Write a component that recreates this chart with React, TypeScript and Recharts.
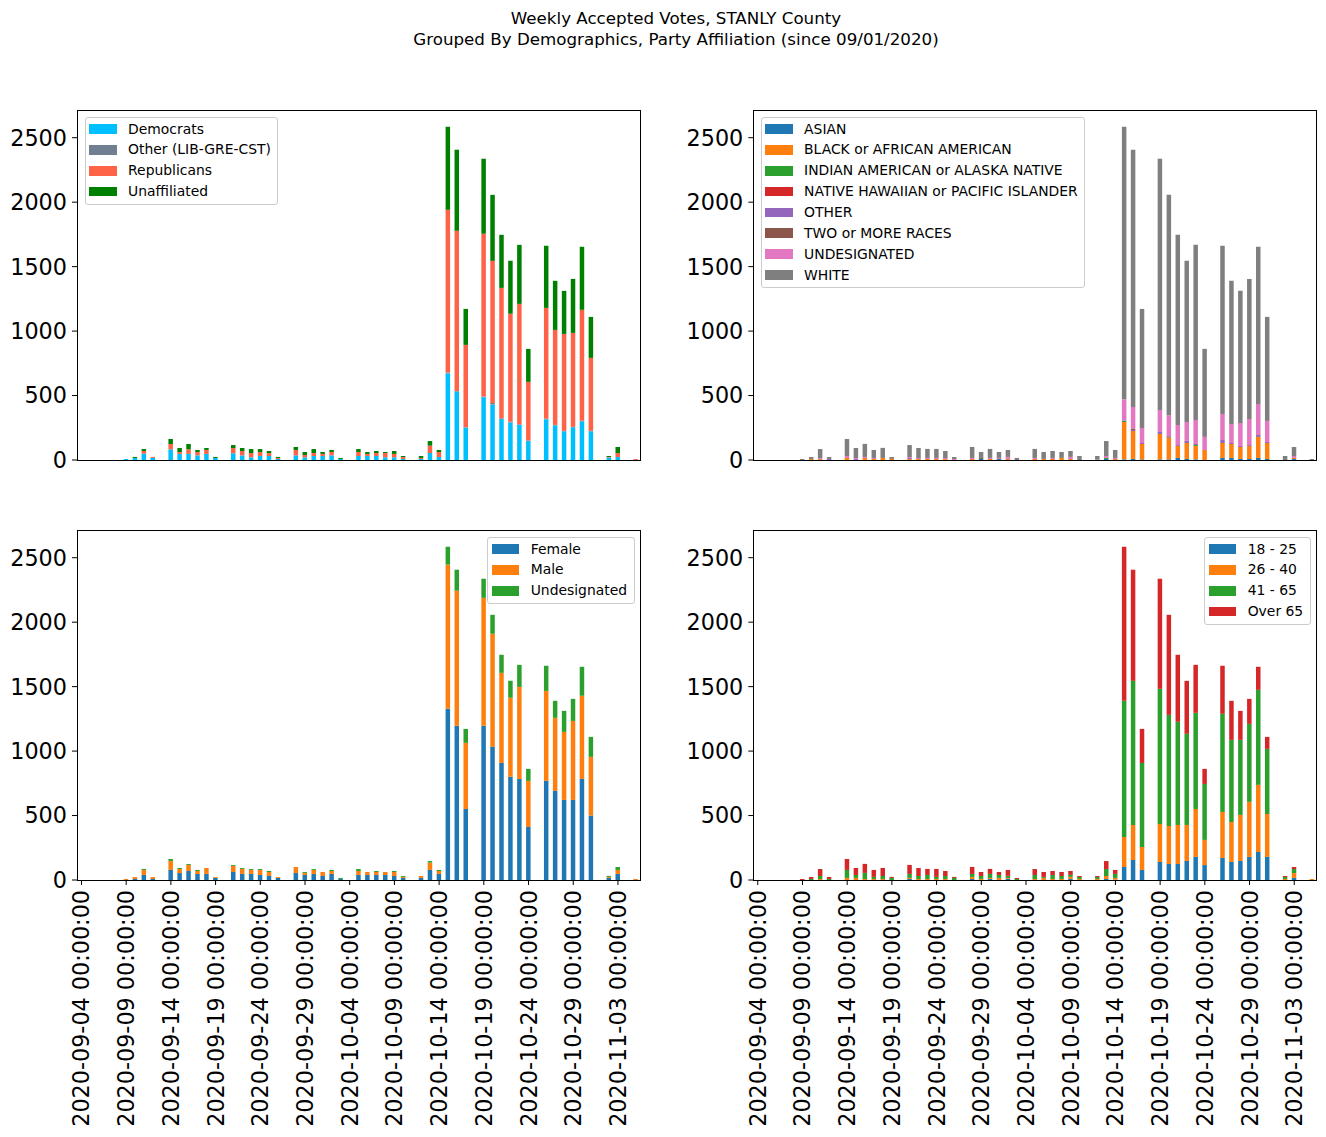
import React from 'react';
import { BarChart, Bar, XAxis, YAxis } from 'recharts';

const DATES = [
  '2020-09-04', '2020-09-05', '2020-09-06', '2020-09-07', '2020-09-08',
  '2020-09-09', '2020-09-10', '2020-09-11', '2020-09-12', '2020-09-13',
  '2020-09-14', '2020-09-15', '2020-09-16', '2020-09-17', '2020-09-18',
  '2020-09-19', '2020-09-20', '2020-09-21', '2020-09-22', '2020-09-23',
  '2020-09-24', '2020-09-25', '2020-09-26', '2020-09-27', '2020-09-28',
  '2020-09-29', '2020-09-30', '2020-10-01', '2020-10-02', '2020-10-03',
  '2020-10-04', '2020-10-05', '2020-10-06', '2020-10-07', '2020-10-08',
  '2020-10-09', '2020-10-10', '2020-10-11', '2020-10-12', '2020-10-13',
  '2020-10-14', '2020-10-15', '2020-10-16', '2020-10-17', '2020-10-18',
  '2020-10-19', '2020-10-20', '2020-10-21', '2020-10-22', '2020-10-23',
  '2020-10-24', '2020-10-25', '2020-10-26', '2020-10-27', '2020-10-28',
  '2020-10-29', '2020-10-30', '2020-10-31', '2020-11-01', '2020-11-02',
  '2020-11-03', '2020-11-04', '2020-11-05',
];

const Y_TICKS = [0, 500, 1000, 1500, 2000, 2500];
const Y_MAX = 2715;

// Party affiliation
const DEMOCRATS = [
  0, 0, 0, 0, 0, 8, 16, 49, 16, 0, 83, 47, 47, 36, 47, 16, 0, 52, 36, 21,
  31, 31, 8, 0, 36, 21, 31, 31, 36, 8, 0, 31, 31, 31, 21, 21, 8, 0, 8, 54,
  23, 673, 531, 251, 0, 487, 430, 318, 290, 272, 148, 0, 316, 269, 223, 254, 300, 223, 0, 18,
  23, 0, 0,
];
const OTHER_PARTY = [
  0, 0, 0, 0, 0, 0, 0, 0, 0, 0, 0, 0, 0, 0, 0, 0, 0, 0, 0, 0,
  0, 0, 0, 0, 0, 0, 0, 0, 0, 0, 0, 0, 0, 0, 0, 0, 0, 0, 0, 0,
  0, 5, 5, 3, 0, 5, 13, 5, 8, 5, 3, 0, 5, 3, 3, 3, 5, 3, 0, 0,
  0, 0, 0,
];
const REPUBLICANS = [
  0, 0, 0, 0, 0, 0, 0, 21, 8, 0, 41, 15, 36, 26, 31, 0, 0, 41, 34, 33,
  31, 23, 8, 0, 42, 18, 23, 16, 26, 0, 0, 31, 16, 23, 33, 26, 15, 0, 8, 57,
  39, 1263, 1242, 639, 0, 1263, 1102, 1012, 836, 934, 455, 0, 859, 737, 752, 729, 860, 566, 0, 5,
  31, 0, 8,
];
const UNAFFILIATED = [
  0, 0, 0, 0, 0, 0, 8, 15, 0, 0, 39, 31, 41, 16, 15, 8, 0, 23, 23, 31,
  23, 16, 8, 0, 23, 23, 31, 15, 16, 8, 0, 23, 15, 16, 8, 23, 8, 0, 15, 36,
  16, 644, 629, 279, 0, 582, 512, 412, 411, 458, 256, 0, 482, 381, 334, 419, 489, 318, 0, 8,
  47, 0, 0,
];

// Race
const ASIAN = [
  0, 0, 0, 0, 0, 0, 0, 0, 0, 0, 0, 0, 0, 0, 0, 0, 0, 0, 0, 0,
  0, 0, 0, 0, 0, 8, 0, 8, 0, 0, 0, 0, 0, 0, 0, 0, 0, 0, 0, 8,
  0, 5, 8, 5, 0, 5, 5, 16, 8, 5, 0, 0, 16, 16, 8, 8, 16, 8, 0, 0,
  8, 0, 0,
];
const BLACK = [
  0, 0, 0, 0, 0, 0, 8, 7, 0, 0, 16, 0, 16, 8, 16, 8, 0, 7, 8, 8,
  8, 7, 0, 0, 8, 0, 8, 0, 8, 0, 0, 8, 8, 8, 16, 8, 0, 0, 0, 0,
  8, 290, 217, 119, 0, 197, 166, 93, 124, 104, 78, 0, 116, 108, 93, 101, 163, 124, 0, 0,
  8, 0, 0,
];
const INDIAN = [
  0, 0, 0, 0, 0, 0, 0, 0, 0, 0, 0, 0, 0, 0, 0, 0, 0, 0, 0, 0,
  0, 0, 0, 0, 0, 0, 0, 0, 0, 0, 0, 0, 0, 0, 0, 0, 0, 0, 0, 8,
  0, 8, 0, 0, 0, 0, 0, 0, 0, 7, 0, 0, 0, 0, 0, 0, 0, 0, 0, 0,
  0, 0, 0,
];
const HAWAIIAN = [
  0, 0, 0, 0, 0, 0, 0, 0, 0, 0, 0, 0, 0, 0, 0, 0, 0, 0, 0, 0,
  0, 0, 0, 0, 0, 0, 0, 0, 0, 0, 0, 0, 0, 0, 0, 0, 0, 0, 0, 0,
  0, 0, 0, 0, 0, 0, 0, 0, 0, 0, 0, 0, 0, 0, 0, 0, 0, 0, 0, 0,
  0, 0, 0,
];
const OTHER_RACE = [
  0, 0, 0, 0, 0, 0, 0, 0, 8, 0, 0, 7, 0, 0, 0, 0, 0, 8, 0, 0,
  0, 0, 0, 0, 0, 0, 0, 0, 0, 0, 0, 0, 0, 0, 0, 0, 0, 0, 3, 0,
  0, 5, 8, 8, 0, 15, 5, 7, 16, 8, 0, 0, 23, 8, 8, 7, 15, 8, 0, 0,
  0, 0, 0,
];
const TWO_OR_MORE = [
  0, 0, 0, 0, 0, 0, 0, 0, 0, 0, 0, 0, 0, 0, 0, 0, 0, 0, 0, 0,
  0, 0, 0, 0, 0, 8, 0, 0, 0, 0, 0, 0, 0, 0, 0, 0, 0, 0, 0, 0,
  0, 0, 8, 0, 0, 0, 8, 0, 0, 0, 0, 0, 0, 0, 0, 0, 0, 0, 0, 0,
  0, 0, 0,
];
const UNDESIGNATED_RACE = [
  0, 0, 0, 0, 0, 0, 0, 8, 0, 0, 15, 8, 8, 8, 0, 0, 0, 8, 8, 8,
  8, 8, 8, 0, 8, 0, 8, 8, 16, 0, 0, 8, 0, 8, 0, 16, 0, 0, 0, 15,
  8, 163, 171, 116, 0, 171, 163, 156, 147, 187, 101, 0, 202, 148, 178, 202, 241, 163, 0, 0,
  15, 0, 0,
];
const WHITE = [
  0, 0, 0, 0, 0, 8, 15, 70, 15, 0, 132, 78, 101, 62, 78, 15, 0, 93, 78, 70,
  70, 55, 15, 0, 85, 46, 70, 46, 54, 16, 0, 70, 54, 54, 46, 46, 31, 0, 28, 116,
  62, 2114, 1995, 924, 0, 1949, 1710, 1475, 1250, 1358, 683, 0, 1305, 1110, 1025, 1087, 1219, 807, 0, 31,
  70, 0, 8,
];

// Gender
const FEMALE = [
  0, 0, 0, 0, 0, 0, 8, 39, 8, 0, 78, 54, 70, 47, 47, 16, 0, 62, 47, 47,
  39, 31, 16, 0, 54, 39, 47, 31, 47, 8, 0, 39, 39, 39, 39, 31, 16, 0, 16, 78,
  47, 1328, 1196, 551, 0, 1196, 1033, 908, 800, 784, 411, 0, 769, 691, 621, 621, 784, 500, 0, 16,
  47, 0, 0,
];
const MALE = [
  0, 0, 0, 0, 0, 8, 15, 39, 15, 0, 70, 31, 47, 23, 46, 7, 0, 47, 39, 31,
  39, 31, 7, 0, 47, 16, 31, 31, 23, 0, 0, 31, 23, 23, 23, 31, 8, 0, 15, 57,
  23, 1118, 1048, 513, 0, 993, 877, 699, 613, 714, 358, 0, 698, 567, 528, 613, 645, 455, 0, 8,
  31, 0, 8,
];
const UNDESIGNATED_GENDER = [
  0, 0, 0, 0, 0, 0, 0, 8, 0, 0, 15, 8, 7, 8, 0, 0, 0, 7, 7, 7,
  7, 8, 0, 0, 0, 7, 7, 0, 8, 8, 0, 15, 0, 8, 0, 8, 7, 0, 0, 12,
  8, 139, 163, 108, 0, 148, 147, 140, 132, 171, 93, 0, 195, 132, 163, 171, 225, 155, 0, 8,
  23, 0, 0,
];

// Age
const AGE_18_25 = [
  0, 0, 0, 0, 0, 0, 0, 0, 0, 0, 0, 0, 0, 0, 0, 0, 0, 8, 0, 0,
  0, 0, 0, 0, 8, 0, 8, 0, 8, 0, 0, 0, 0, 0, 0, 8, 0, 0, 0, 8,
  3, 101, 155, 78, 0, 140, 124, 124, 148, 179, 116, 0, 171, 140, 148, 179, 217, 179, 0, 0,
  16, 0, 0,
];
const AGE_26_40 = [
  0, 0, 0, 0, 0, 0, 0, 8, 0, 0, 16, 16, 8, 8, 8, 0, 0, 8, 8, 8,
  8, 8, 0, 0, 16, 8, 8, 16, 8, 0, 0, 8, 16, 8, 8, 16, 8, 0, 8, 23,
  13, 233, 272, 178, 0, 295, 295, 303, 279, 372, 195, 0, 357, 310, 357, 427, 521, 333, 0, 8,
  38, 0, 8,
];
const AGE_41_65 = [
  0, 0, 0, 0, 0, 0, 8, 23, 8, 0, 62, 23, 47, 16, 23, 16, 0, 31, 23, 31,
  16, 23, 16, 0, 23, 23, 31, 23, 16, 8, 0, 31, 8, 31, 23, 16, 15, 0, 15, 54,
  31, 1056, 1118, 652, 0, 1048, 862, 800, 707, 746, 434, 0, 761, 637, 582, 605, 737, 505, 0, 15,
  31, 0, 0,
];
const AGE_OVER_65 = [
  0, 0, 0, 0, 0, 8, 15, 54, 15, 0, 85, 54, 70, 54, 62, 8, 0, 70, 62, 47,
  62, 39, 8, 0, 54, 31, 39, 23, 46, 8, 0, 46, 38, 31, 31, 30, 8, 0, 8, 62,
  31, 1195, 862, 264, 0, 854, 776, 520, 411, 372, 117, 0, 373, 303, 225, 194, 179, 93, 0, 8,
  16, 0, 0,
];

type Series = { key: string; label: string; color: string; values: number[] };

const PARTY_SERIES: Series[] = [
  { key: 'dem', label: 'Democrats', color: '#00BFFF', values: DEMOCRATS },
  { key: 'oth', label: 'Other (LIB-GRE-CST)', color: '#708090', values: OTHER_PARTY },
  { key: 'rep', label: 'Republicans', color: '#FF6347', values: REPUBLICANS },
  { key: 'una', label: 'Unaffiliated', color: '#008000', values: UNAFFILIATED },
];
const RACE_SERIES: Series[] = [
  { key: 'asian', label: 'ASIAN', color: '#1f77b4', values: ASIAN },
  { key: 'black', label: 'BLACK or AFRICAN AMERICAN', color: '#ff7f0e', values: BLACK },
  { key: 'indian', label: 'INDIAN AMERICAN or ALASKA NATIVE', color: '#2ca02c', values: INDIAN },
  { key: 'hawaiian', label: 'NATIVE HAWAIIAN or PACIFIC ISLANDER', color: '#d62728', values: HAWAIIAN },
  { key: 'other', label: 'OTHER', color: '#9467bd', values: OTHER_RACE },
  { key: 'two', label: 'TWO or MORE RACES', color: '#8c564b', values: TWO_OR_MORE },
  { key: 'undes', label: 'UNDESIGNATED', color: '#e377c2', values: UNDESIGNATED_RACE },
  { key: 'white', label: 'WHITE', color: '#7f7f7f', values: WHITE },
];
const GENDER_SERIES: Series[] = [
  { key: 'f', label: 'Female', color: '#1f77b4', values: FEMALE },
  { key: 'm', label: 'Male', color: '#ff7f0e', values: MALE },
  { key: 'u', label: 'Undesignated', color: '#2ca02c', values: UNDESIGNATED_GENDER },
];
const AGE_SERIES: Series[] = [
  { key: 'a1', label: '18 - 25', color: '#1f77b4', values: AGE_18_25 },
  { key: 'a2', label: '26 - 40', color: '#ff7f0e', values: AGE_26_40 },
  { key: 'a3', label: '41 - 65', color: '#2ca02c', values: AGE_41_65 },
  { key: 'a4', label: 'Over 65', color: '#d62728', values: AGE_OVER_65 },
];

const FONT = '"DejaVu Sans", Verdana, sans-serif';
const TICK_FONT_SIZE = 22.3;

function buildRows(series: Series[]) {
  return DATES.map((d, i) => {
    const row: Record<string, any> = { date: d };
    series.forEach((s) => {
      row[s.key] = s.values[i];
    });
    return row;
  });
}

const XTick = (props: any) => {
  const { x, y, payload } = props;
  return (
    <text
      x={x}
      y={y}
      transform={`rotate(-90 ${x} ${y})`}
      textAnchor="end"
      dy="0.36em"
      fontSize={TICK_FONT_SIZE}
      fontFamily={FONT}
      fill="#000"
    >
      {`${payload.value} 00:00:00`}
    </text>
  );
};

type PanelProps = {
  series: Series[];
  left: number;
  top: number;
  width: number;
  height: number;
  margin: { top: number; right: number; bottom: number; left: number };
  yAxisWidth: number;
  showX: boolean;
  xAxisHeight: number;
  plot: { x: number; y: number; w: number; h: number };
  legend: { left: number; top: number };
};

function Legend({ series, left, top }: { series: Series[]; left: number; top: number }) {
  return (
    <div
      style={{
        position: 'absolute',
        left,
        top,
        background: 'rgba(255,255,255,0.8)',
        border: '1px solid #cccccc',
        borderRadius: 3,
        padding: '0.3px 6.5px 2px 3.3px',
        fontFamily: FONT,
        fontSize: 13.9,
        color: '#000',
        whiteSpace: 'nowrap',
        pointerEvents: 'none',
      }}
    >
      {series.map((s) => (
        <div key={s.key} style={{ display: 'flex', alignItems: 'center', height: 20.85 }}>
          <div style={{ width: 27.8, height: 9.7, background: s.color, flex: 'none' }} />
          <span style={{ marginLeft: 11.3, lineHeight: '20.85px' }}>{s.label}</span>
        </div>
      ))}
    </div>
  );
}

function Panel(p: PanelProps) {
  const rows = buildRows(p.series);
  return (
    <>
      <div style={{ position: 'absolute', left: p.left, top: p.top, width: p.width, height: p.height }}>
        <BarChart width={p.width} height={p.height} data={rows} margin={p.margin} barSize={4.5}>
          {p.showX ? (
            <XAxis
              dataKey="date"
              interval={4}
              height={p.xAxisHeight}
              axisLine={false}
              tickLine={{ stroke: '#000', strokeWidth: 1 }}
              tickSize={5}
              tickMargin={5}
              tick={<XTick />}
            />
          ) : (
            <XAxis dataKey="date" hide />
          )}
          <YAxis
            type="number"
            domain={[0, Y_MAX]}
            ticks={Y_TICKS}
            width={p.yAxisWidth}
            axisLine={false}
            tickLine={{ stroke: '#000', strokeWidth: 1 }}
            tickSize={5}
            tickMargin={5}
            tick={{ fill: '#000', fontSize: TICK_FONT_SIZE, fontFamily: FONT }}
          />
          {p.series.map((s) => (
            <Bar key={s.key} dataKey={s.key} stackId="a" fill={s.color} isAnimationActive={false} />
          ))}
        </BarChart>
      </div>
      <div
        style={{
          position: 'absolute',
          left: p.plot.x - 0.5,
          top: p.plot.y - 0.5,
          width: p.plot.w + 1,
          height: p.plot.h + 1,
          border: '1px solid #000',
          boxSizing: 'border-box',
          pointerEvents: 'none',
        }}
      />
      <Legend series={p.series} left={p.legend.left} top={p.legend.top} />
    </>
  );
}

export default function App() {
  const W = 663;
  const plotW = 563.3;
  return (
    <div
      style={{
        position: 'absolute',
        left: 0,
        top: 0,
        width: 1326,
        height: 1137,
        background: '#fff',
        overflow: 'hidden',
        fontFamily: FONT,
      }}
    >
      <div
        style={{
          position: 'absolute',
          left: 0,
          top: 7.5,
          width: 1352,
          textAlign: 'center',
          fontSize: 16.7,
          lineHeight: '21px',
          color: '#000',
        }}
      >
        <div>Weekly Accepted Votes, STANLY County</div>
        <div>Grouped By Demographics, Party Affiliation (since 09/01/2020)</div>
      </div>

      <Panel
        series={PARTY_SERIES}
        left={0}
        top={0}
        width={W}
        height={490}
        margin={{ top: 110, right: 22.7, bottom: 30, left: 0 }}
        yAxisWidth={77}
        showX={false}
        xAxisHeight={0}
        plot={{ x: 77, y: 110, w: plotW, h: 350 }}
        legend={{ left: 84.7, top: 117.3 }}
      />
      <Panel
        series={RACE_SERIES}
        left={W}
        top={0}
        width={W}
        height={490}
        margin={{ top: 110, right: 9.4, bottom: 30, left: 0 }}
        yAxisWidth={90.3}
        showX={false}
        xAxisHeight={0}
        plot={{ x: 753.3, y: 110, w: plotW, h: 350 }}
        legend={{ left: 760.7, top: 117.3 }}
      />
      <Panel
        series={GENDER_SERIES}
        left={0}
        top={490}
        width={W}
        height={647}
        margin={{ top: 40, right: 22.7, bottom: 0, left: 0 }}
        yAxisWidth={77}
        showX={true}
        xAxisHeight={257}
        plot={{ x: 77, y: 530, w: plotW, h: 350 }}
        legend={{ left: 487.3, top: 537.3 }}
      />
      <Panel
        series={AGE_SERIES}
        left={W}
        top={490}
        width={W}
        height={647}
        margin={{ top: 40, right: 9.4, bottom: 0, left: 0 }}
        yAxisWidth={90.3}
        showX={true}
        xAxisHeight={257}
        plot={{ x: 753.3, y: 530, w: plotW, h: 350 }}
        legend={{ left: 1204.3, top: 537.3 }}
      />
    </div>
  );
}
